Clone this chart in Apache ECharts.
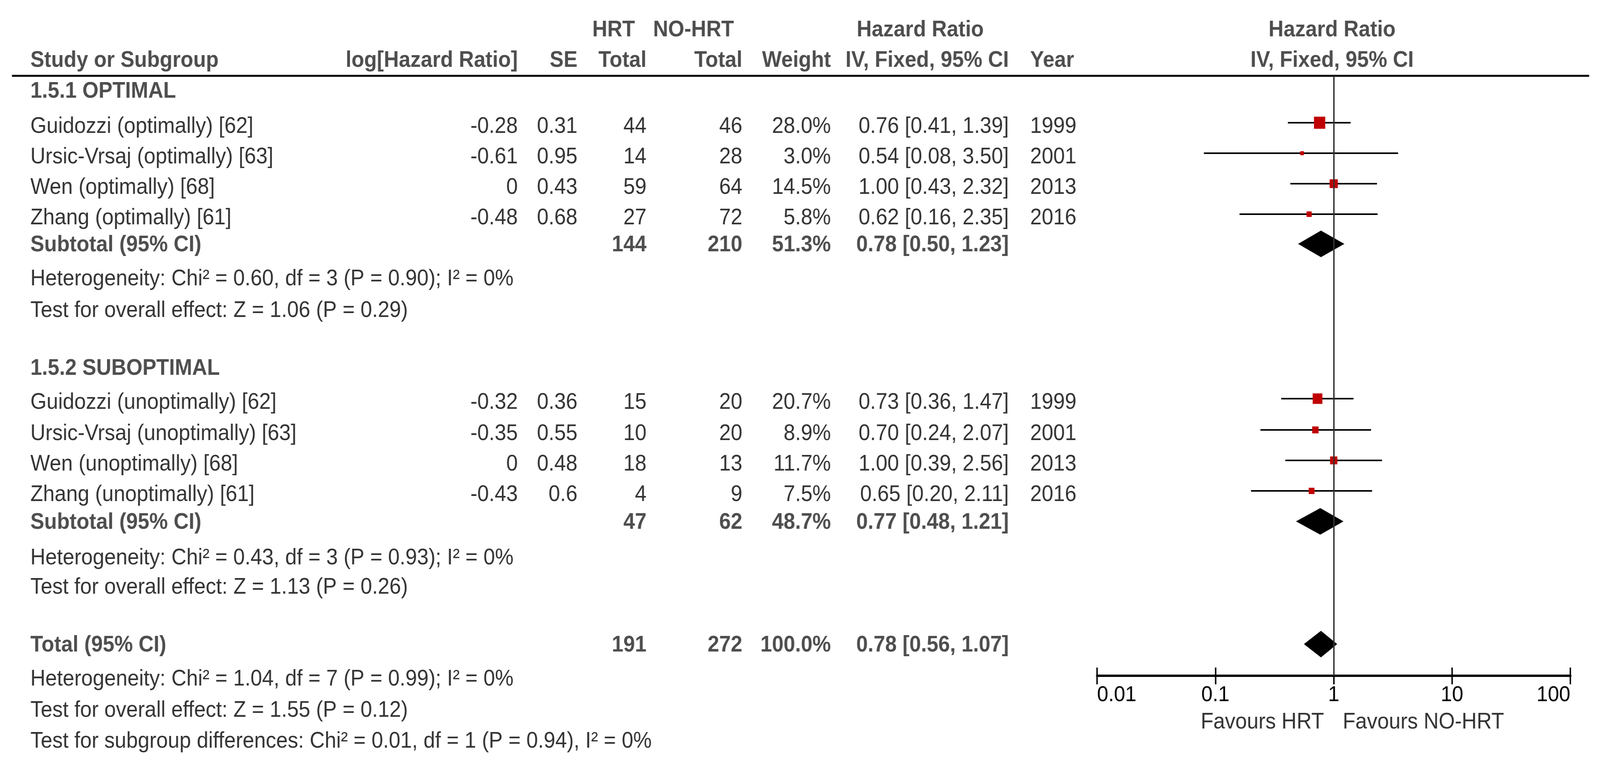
<!DOCTYPE html>
<html>
<head>
<meta charset="utf-8">
<script src="https://cdn.jsdelivr.net/npm/echarts@6/dist/echarts.min.js"></script>
<style>
  html, body { margin: 0; padding: 0; background: #ffffff; overflow: hidden; }
  #chart { width: 4425px; height: 1942px; transform-origin: 0 0; }
</style>
</head>
<body>
<div id="chart"></div>
<script>
// ---------------- DATA ----------------
const studyNames = [
  'Guidozzi (optimally) [62]', 'Ursic-Vrsaj (optimally) [63]', 'Wen (optimally) [68]', 'Zhang (optimally) [61]',
  'Guidozzi (unoptimally) [62]', 'Ursic-Vrsaj (unoptimally) [63]', 'Wen (unoptimally) [68]', 'Zhang (unoptimally) [61]'
];
const logHRText = ['-0.28', '-0.61', '0', '-0.48', '-0.32', '-0.35', '0', '-0.43'];
const seText = ['0.31', '0.95', '0.43', '0.68', '0.36', '0.55', '0.48', '0.6'];
const hrtTotals = [44, 14, 59, 27, 15, 10, 18, 4];
const noHrtTotals = [46, 28, 64, 72, 20, 20, 13, 9];
const weights = [28.0, 3.0, 14.5, 5.8, 20.7, 8.9, 11.7, 7.5];
const hazardRatios = [0.76, 0.54, 1.00, 0.62, 0.73, 0.70, 1.00, 0.65];
const ciLower = [0.41, 0.08, 0.43, 0.16, 0.36, 0.24, 0.39, 0.20];
const ciUpper = [1.39, 3.50, 2.32, 2.35, 1.47, 2.07, 2.56, 2.11];
const years = [1999, 2001, 2013, 2016, 1999, 2001, 2013, 2016];

const subgroupNames = ['1.5.1 OPTIMAL', '1.5.2 SUBOPTIMAL'];
const subgroupHrt = [144, 47];
const subgroupNoHrt = [210, 62];
const subgroupWeight = [51.3, 48.7];
const subgroupHR = [0.78, 0.77];
const subgroupLower = [0.50, 0.48];
const subgroupUpper = [1.23, 1.21];
const subgroupHet = [
  'Heterogeneity: Chi² = 0.60, df = 3 (P = 0.90); I² = 0%',
  'Heterogeneity: Chi² = 0.43, df = 3 (P = 0.93); I² = 0%'
];
const subgroupEffect = [
  'Test for overall effect: Z = 1.06 (P = 0.29)',
  'Test for overall effect: Z = 1.13 (P = 0.26)'
];

const totalRow = { hrt: 191, noHrt: 272, weight: 100.0, hr: 0.78, lower: 0.56, upper: 1.07 };
const totalNotes = [
  'Heterogeneity: Chi² = 1.04, df = 7 (P = 0.99); I² = 0%',
  'Test for overall effect: Z = 1.55 (P = 0.12)',
  'Test for subgroup differences: Chi² = 0.01, df = 1 (P = 0.94), I² = 0%'
];

const axisTickValues = [0.01, 0.1, 1, 10, 100];
const axisTickLabels = ['0.01', '0.1', '1', '10', '100'];
const favourLabels = ['Favours HRT', 'Favours NO-HRT'];

const headerRow1 = ['HRT', 'NO-HRT', 'Hazard Ratio', 'Hazard Ratio'];
const headerRow2 = ['Study or Subgroup', 'log[Hazard Ratio]', 'SE', 'Total', 'Total', 'Weight', 'IV, Fixed, 95% CI', 'Year', 'IV, Fixed, 95% CI'];

// ---------------- LAYOUT / STYLE (reference pixel units) ----------------
const W = 4425, H = 1942;
const FONT = '"Liberation Sans", Arial, sans-serif';
const FS = 57.5;
const COL = { name: 84, logHR: 1432, se: 1597, hrt: 1788, noHrt: 2053, weight: 2298, ci: 2790, year: 2849,
              hrtHead: 1697, noHrtHead: 1918, hrHead: 2545, plotHead: 3684 };
const ROW = {
  head1: 77, head2: 155,
  group: [234, 943],
  study: [324, 402, 480, 558, 1030, 1110, 1188, 1266],
  sub: [627, 1337], het: [714, 1428], effect: [795, 1503],
  total: 1651, totalNotes: [1738, 1818, 1897], favour: 1848
};
const PLOT = { left: 3034, right: 4343, top: 194, axisY: 1729 };
const MARK_DY = -10, DIAMOND_DY = -3, DIAMOND_HALF = 34, SQUARE_K = 5.9;
const BOLD_COLOR = '#222222', TEXT_COLOR = '#000000', RED = '#c00000';

// fit the fixed-size drawing to the actual window
const box = document.getElementById('chart');
function fitBox() {
  const sx = (window.innerWidth || W) / W, sy = (window.innerHeight || H) / H;
  box.style.transform = 'scale(' + sx + ',' + sy + ')';
}
fitBox();

// ---------------- TEXT CELLS ----------------
const fmt2 = v => v.toFixed(2);
const ciText = (hr, lo, hi) => fmt2(hr) + ' [' + fmt2(lo) + ', ' + fmt2(hi) + ']';
const texts = [];
function cell(x, y, s, align, bold) {
  texts.push({
    value: [x, y],
    label: {
      formatter: String(s), align: align, verticalAlign: 'middle',
      fontWeight: bold ? 'bold' : 'normal', color: bold ? BOLD_COLOR : TEXT_COLOR
    }
  });
}
// headers
cell(COL.hrtHead, ROW.head1, headerRow1[0], 'center', true);
cell(COL.noHrtHead, ROW.head1, headerRow1[1], 'center', true);
cell(COL.hrHead, ROW.head1, headerRow1[2], 'center', true);
cell(COL.plotHead, ROW.head1, headerRow1[3], 'center', true);
cell(COL.name, ROW.head2, headerRow2[0], 'left', true);
cell(COL.logHR, ROW.head2, headerRow2[1], 'right', true);
cell(COL.se, ROW.head2, headerRow2[2], 'right', true);
cell(COL.hrt, ROW.head2, headerRow2[3], 'right', true);
cell(COL.noHrt, ROW.head2, headerRow2[4], 'right', true);
cell(COL.weight, ROW.head2, headerRow2[5], 'right', true);
cell(COL.ci, ROW.head2, headerRow2[6], 'right', true);
cell(COL.year, ROW.head2, headerRow2[7], 'left', true);
cell(COL.plotHead, ROW.head2, headerRow2[8], 'center', true);
// studies
studyNames.forEach((n, i) => {
  const y = ROW.study[i];
  cell(COL.name, y, n, 'left', false);
  cell(COL.logHR, y, logHRText[i], 'right', false);
  cell(COL.se, y, seText[i], 'right', false);
  cell(COL.hrt, y, hrtTotals[i], 'right', false);
  cell(COL.noHrt, y, noHrtTotals[i], 'right', false);
  cell(COL.weight, y, weights[i].toFixed(1) + '%', 'right', false);
  cell(COL.ci, y, ciText(hazardRatios[i], ciLower[i], ciUpper[i]), 'right', false);
  cell(COL.year, y, years[i], 'left', false);
});
// subgroups
subgroupNames.forEach((n, g) => {
  cell(COL.name, ROW.group[g], n, 'left', true);
  const y = ROW.sub[g];
  cell(COL.name, y, 'Subtotal (95% CI)', 'left', true);
  cell(COL.hrt, y, subgroupHrt[g], 'right', true);
  cell(COL.noHrt, y, subgroupNoHrt[g], 'right', true);
  cell(COL.weight, y, subgroupWeight[g].toFixed(1) + '%', 'right', true);
  cell(COL.ci, y, ciText(subgroupHR[g], subgroupLower[g], subgroupUpper[g]), 'right', true);
  cell(COL.name, ROW.het[g], subgroupHet[g], 'left', false);
  cell(COL.name, ROW.effect[g], subgroupEffect[g], 'left', false);
});
// total
cell(COL.name, ROW.total, 'Total (95% CI)', 'left', true);
cell(COL.hrt, ROW.total, totalRow.hrt, 'right', true);
cell(COL.noHrt, ROW.total, totalRow.noHrt, 'right', true);
cell(COL.weight, ROW.total, totalRow.weight.toFixed(1) + '%', 'right', true);
cell(COL.ci, ROW.total, ciText(totalRow.hr, totalRow.lower, totalRow.upper), 'right', true);
totalNotes.forEach((s, k) => cell(COL.name, ROW.totalNotes[k], s, 'left', false));

// ---------------- FOREST DATA ----------------
const studyMarks = hazardRatios.map((hr, i) => [hr, ciLower[i], ciUpper[i], ROW.study[i] + MARK_DY, weights[i]]);
const diamonds = subgroupHR.map((hr, g) => [hr, subgroupLower[g], subgroupUpper[g], ROW.sub[g] + DIAMOND_DY]);
diamonds.push([totalRow.hr, totalRow.lower, totalRow.upper, ROW.total + DIAMOND_DY]);
const favourData = [[1, ROW.favour, 0], [1, ROW.favour, 1]];

const logAxisBase = {
  type: 'log', logBase: 10, min: axisTickValues[0], max: axisTickValues[axisTickValues.length - 1],
  gridIndex: 1, position: 'bottom', splitNumber: 4, splitLine: { show: false }
};

const chart = echarts.init(box, null, { width: W, height: H });
chart.setOption({
  animation: false,
  backgroundColor: '#ffffff',
  textStyle: { fontFamily: FONT, fontSize: FS },
  grid: [
    { left: 0, top: 0, width: W, height: H, outerBoundsMode: 'none', containLabel: false },
    { left: PLOT.left, width: PLOT.right - PLOT.left, top: PLOT.top, height: PLOT.axisY - PLOT.top,
      outerBoundsMode: 'none', containLabel: false }
  ],
  xAxis: [
    { type: 'value', gridIndex: 0, min: 0, max: W, show: false },
    Object.assign({}, logAxisBase, {
      axisLine: { show: true, onZero: false, lineStyle: { color: '#000', width: 6 } },
      axisTick: { show: true, inside: false, length: 22, lineStyle: { color: '#000', width: 4 } },
      axisLabel: {
        show: true, margin: 22, fontSize: 56, color: '#000', fontFamily: FONT,
        showMinLabel: true, showMaxLabel: true, alignMinLabel: 'left', alignMaxLabel: 'right',
        formatter: v => {
          const k = axisTickValues.findIndex(t => Math.abs(Math.log10(t) - Math.log10(v)) < 1e-6);
          return k >= 0 ? axisTickLabels[k] : '';
        }
      }
    }),
    Object.assign({}, logAxisBase, {
      axisLine: { show: false, onZero: false },
      axisTick: { show: true, inside: true, length: 21, lineStyle: { color: '#000', width: 4 } },
      axisLabel: { show: false }
    })
  ],
  yAxis: [
    { type: 'value', gridIndex: 0, min: 0, max: H, inverse: true, show: false },
    { type: 'value', gridIndex: 1, min: PLOT.top, max: PLOT.axisY, inverse: true, show: false }
  ],
  graphic: [
    { type: 'line', shape: { x1: 33, y1: 194, x2: 4395, y2: 194 }, style: { stroke: '#000', lineWidth: 5 }, silent: true }
  ],
  series: [
    {
      type: 'scatter', xAxisIndex: 0, yAxisIndex: 0, symbolSize: 0, silent: true,
      label: { show: true, position: [0, 0], fontSize: FS, fontFamily: FONT, distance: 0 },
      data: texts, z: 5
    },
    {
      type: 'line', xAxisIndex: 1, yAxisIndex: 1, data: [], silent: true, z: 1,
      markLine: {
        silent: true, symbol: ['none', 'none'], label: { show: false },
        lineStyle: { color: '#333', width: 4, type: 'solid' },
        data: [{ xAxis: 1 }]
      }
    },
    {
      type: 'custom', xAxisIndex: 1, yAxisIndex: 1, silent: true, z: 3,
      data: studyMarks,
      renderItem: (params, api) => {
        const y = api.value(3);
        const pL = api.coord([api.value(1), y]);
        const pH = api.coord([api.value(2), y]);
        const pC = api.coord([api.value(0), y]);
        const s = SQUARE_K * Math.sqrt(api.value(4));
        return {
          type: 'group', children: [
            { type: 'line', shape: { x1: pL[0], y1: pL[1], x2: pH[0], y2: pH[1] }, style: { stroke: '#000', lineWidth: 4 } },
            { type: 'rect', shape: { x: pC[0] - s / 2, y: pC[1] - s / 2, width: s, height: s }, style: { fill: RED } }
          ]
        };
      }
    },
    {
      type: 'custom', xAxisIndex: 1, yAxisIndex: 1, silent: true, z: 3,
      data: diamonds,
      renderItem: (params, api) => {
        const y = api.value(3);
        const pL = api.coord([api.value(1), y]);
        const pH = api.coord([api.value(2), y]);
        const pC = api.coord([api.value(0), y]);
        return {
          type: 'polygon',
          shape: { points: [[pL[0], pL[1]], [pC[0], pC[1] - DIAMOND_HALF], [pH[0], pH[1]], [pC[0], pC[1] + DIAMOND_HALF]] },
          style: { fill: '#000' }
        };
      }
    },
    {
      type: 'custom', xAxisIndex: 1, yAxisIndex: 1, silent: true, z: 3,
      data: favourData,
      renderItem: (params, api) => {
        const p = api.coord([api.value(0), api.value(1)]);
        const left = api.value(2) === 0;
        return {
          type: 'text',
          x: p[0] + (left ? -27 : 25), y: p[1],
          style: {
            text: favourLabels[api.value(2)], fill: '#333', fontSize: FS, fontFamily: FONT,
            align: left ? 'right' : 'left', verticalAlign: 'middle'
          }
        };
      }
    }
  ]
});
window.addEventListener('resize', fitBox);
</script>
</body>
</html>
